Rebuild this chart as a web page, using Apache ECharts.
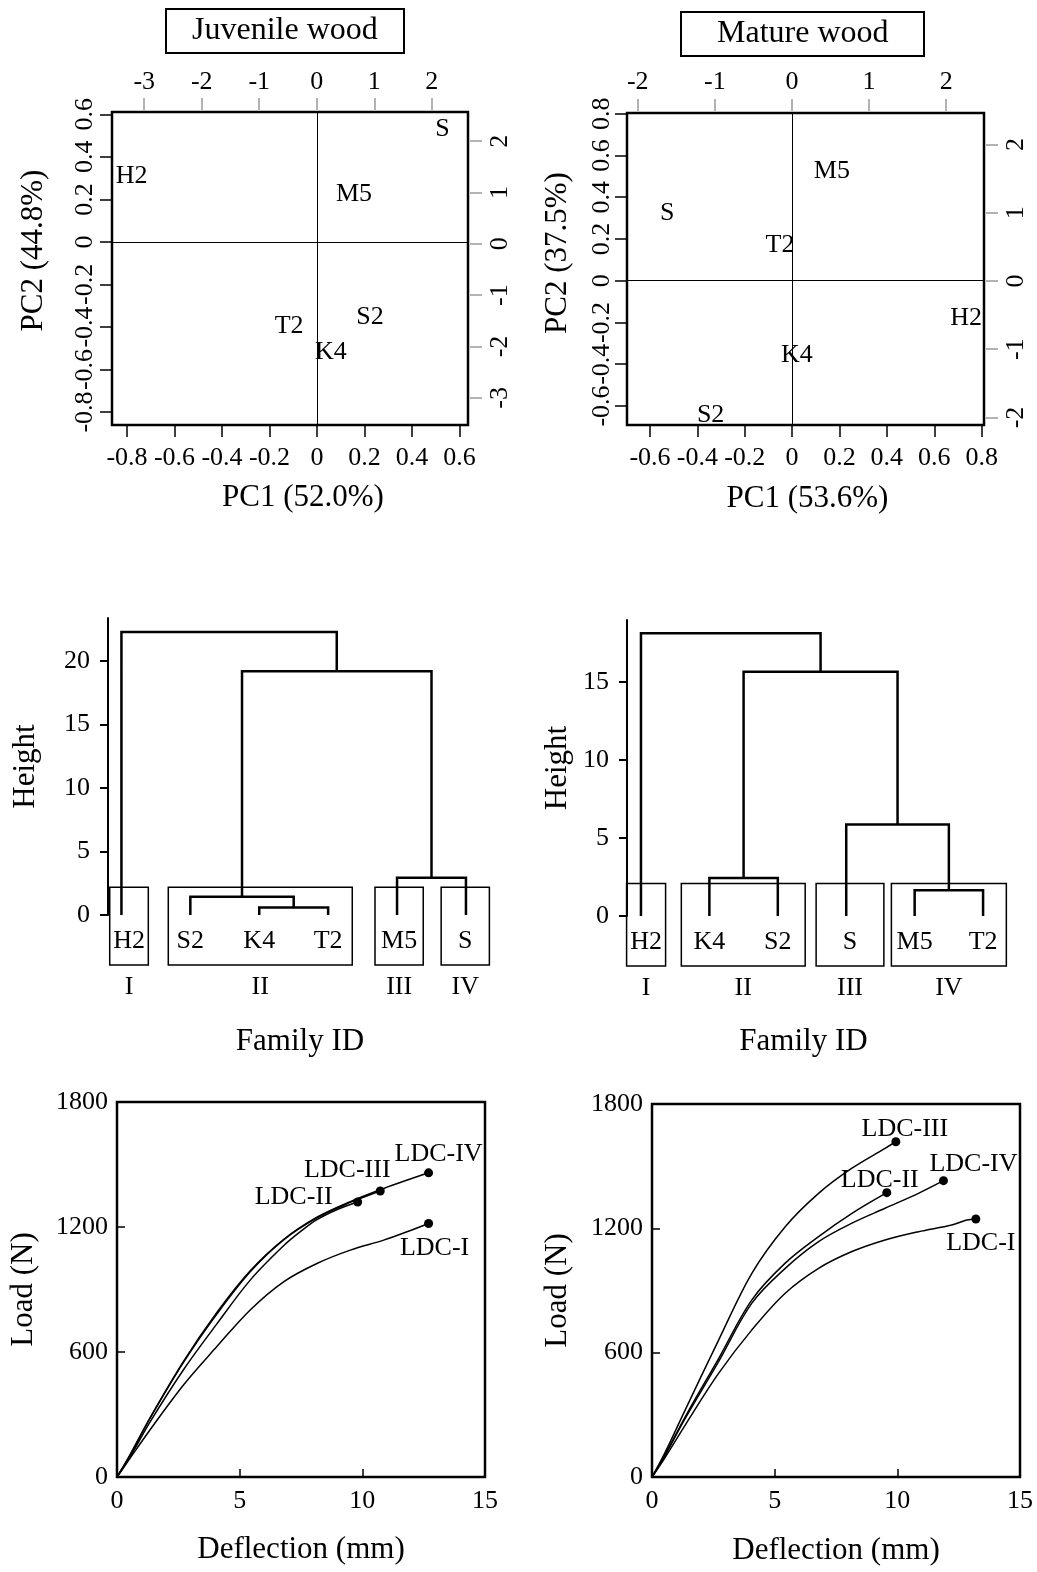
<!DOCTYPE html>
<html><head><meta charset="utf-8">
<script src="https://cdn.jsdelivr.net/npm/echarts@6/dist/echarts.min.js"></script>
<style>html,body{margin:0;padding:0;background:#fff}#c{width:1037px;height:1572px}</style>
</head><body><div id="c"></div>
<script>
// ---------------- DATA ----------------
// PCA score plots
const juvFamilies = ['S', 'H2', 'M5', 'S2', 'T2', 'K4'];
const juvPC1 = [0.529, -0.78, 0.156, 0.223, -0.117, 0.059];
const juvPC2 = [0.532, 0.308, 0.225, -0.354, -0.396, -0.518];
const matFamilies = ['M5', 'S', 'T2', 'H2', 'K4', 'S2'];
const matPC1 = [0.168, -0.527, -0.051, 0.735, 0.02, -0.344];
const matPC2 = [0.523, 0.324, 0.172, -0.178, -0.359, -0.646];

const juvPC1Ticks = [-0.8, -0.6, -0.4, -0.2, 0, 0.2, 0.4, 0.6];
const juvPC2Ticks = [-0.8, -0.6, -0.4, -0.2, 0, 0.2, 0.4, 0.6];
const juvTopTicks = [-3, -2, -1, 0, 1, 2];
const juvRightTicks = [-3, -2, -1, 0, 1, 2];
const matPC1Ticks = [-0.6, -0.4, -0.2, 0, 0.2, 0.4, 0.6, 0.8];
const matPC2Ticks = [-0.6, -0.4, -0.2, 0, 0.2, 0.4, 0.6, 0.8];
const matTopTicks = [-2, -1, 0, 1, 2];
const matRightTicks = [-2, -1, 0, 1, 2];

// Dendrograms (hclust-style merge matrix: negative = leaf index in plotting order)
const juvLeaves = ['H2', 'S2', 'K4', 'T2', 'M5', 'S'];
const juvMerge = [[-3, -4], [-2, 1], [-5, -6], [2, 3], [-1, 4]];
const juvHeights = [0.6, 1.44, 2.94, 19.2, 22.3];
const juvGroups = ['I', 'II', 'III', 'IV'];
const juvGroupLeaves = [[1, 1], [2, 4], [5, 5], [6, 6]];
const juvHeightTicks = [0, 5, 10, 15, 20];

const matLeaves = ['H2', 'K4', 'S2', 'S', 'M5', 'T2'];
const matMerge = [[-2, -3], [-5, -6], [-4, 2], [1, 3], [-1, 4]];
const matHeights = [2.44, 1.65, 5.86, 15.64, 18.1];
const matGroups = ['I', 'II', 'III', 'IV'];
const matGroupLeaves = [[1, 1], [2, 3], [4, 4], [5, 6]];
const matHeightTicks = [0, 5, 10, 15];

// Load-deflection curves
const ldcNames = ['LDC-I', 'LDC-II', 'LDC-III', 'LDC-IV'];
const juvDefl = {
  'LDC-I':   [0, 0.5, 1.35, 2.71, 4.07, 5.43, 6.79, 8.15, 9.51, 10.87, 11.82, 12.7],
  'LDC-II':  [0, 0.5, 1.35, 2.71, 4.07, 5.43, 6.79, 7.5, 8.15, 9.0, 9.81],
  'LDC-III': [0, 0.5, 1.35, 2.71, 4.07, 5.43, 6.79, 8.15, 9.51, 10.73],
  'LDC-IV':  [0, 0.5, 1.35, 2.71, 4.07, 5.43, 6.79, 8.15, 9.51, 10.87, 12.7]
};
const juvLoad = {
  'LDC-I':   [0, 85, 227, 442, 626, 802, 937, 1025, 1089, 1137, 1177, 1217],
  'LDC-II':  [0, 90, 265, 515, 735, 945, 1110, 1180, 1235, 1285, 1320],
  'LDC-III': [0, 98, 282, 550, 782, 985, 1138, 1244, 1318, 1373],
  'LDC-IV':  [0, 100, 285, 555, 790, 990, 1140, 1247, 1322, 1385, 1460]
};
const matDefl = {
  'LDC-I':   [0, 0.5, 1.36, 2.72, 4.07, 5.43, 6.79, 8.15, 9.5, 10.86, 12.22, 12.83, 13.2],
  'LDC-II':  [0, 0.5, 1.36, 2.72, 4.07, 5.43, 6.79, 8.15, 9.57],
  'LDC-III': [0, 0.5, 1.36, 2.72, 4.07, 5.43, 6.79, 8.15, 9.5, 9.94],
  'LDC-IV':  [0, 0.5, 1.36, 2.72, 4.07, 5.43, 6.79, 8.15, 9.5, 10.86, 11.88]
};
const matLoad = {
  'LDC-I':   [0, 88, 252, 501, 710, 887, 1007, 1088, 1144, 1184, 1216, 1240, 1245],
  'LDC-II':  [0, 100, 292, 573, 855, 1032, 1160, 1272, 1372],
  'LDC-III': [0, 110, 325, 662, 983, 1208, 1369, 1490, 1586, 1618],
  'LDC-IV':  [0, 97, 284, 558, 839, 1007, 1136, 1225, 1297, 1369, 1430]
};
const deflTicks = [0, 5, 10, 15];
const loadTicks = [0, 600, 1200, 1800];

// ---------------- STYLE ----------------
const FF = '"Liberation Serif", "Times New Roman", serif';
const FS = 26, NFS = 31;
const BLACK = '#000', GREY = '#9a9a9a';
const juvBoxPad = [[0.17, 0.39], [0.32, 0.35], [0.32, 0.38], [0.36, 0.34]];
const matBoxPad = [[0.21, 0.36], [0.41, 0.40], [0.44, 0.55], [0.34, 0.34]];
const juvBoxTop = 2.18, matBoxTop = 2.08;
const boxBottomPx = 50, leafLabelPx = 26, groupLabelPx = 72;
const juvLabelOffset = {'LDC-I': [6, 25], 'LDC-II': [-64, -5], 'LDC-III': [-33, -21], 'LDC-IV': [10, -19]};
const matLabelOffset = {'LDC-I': [5, 24], 'LDC-II': [-7, -13], 'LDC-III': [9, -13], 'LDC-IV': [30, -17]};

const lbl = (extra) => Object.assign({fontFamily: FF, fontSize: FS, color: BLACK, opacity: 1, textBorderWidth: 0}, extra || {});
const nameStyle = (extra) => Object.assign({fontFamily: FF, fontSize: NFS, color: BLACK}, extra || {});
const plain = v => String(v);

// ---------------- HELPERS ----------------
function pcaAxes(grid, ext, ticks, names, margins, namePad) {
  const hidden = {show: false, onZero: false};
  const x = [
    {gridIndex: grid, type: 'value', position: 'bottom', min: ext.x[0], max: ext.x[1],
     axisLine: hidden, splitLine: {show: false},
     axisTick: {show: true, length: 12, customValues: ticks.x, lineStyle: {color: BLACK, width: 1.5}},
     axisLabel: lbl({customValues: ticks.x, margin: margins.b, formatter: plain}),
     name: names.x, nameLocation: 'middle', nameGap: margins.xName,
     nameTextStyle: nameStyle({padding: [0, 0, 0, namePad.x]})},
    {gridIndex: grid, type: 'value', position: 'top', offset: 2, min: ext.t[0], max: ext.t[1],
     axisLine: hidden, splitLine: {show: false},
     axisTick: {show: true, length: 12, customValues: ticks.t, lineStyle: {color: GREY, width: 1.5}},
     axisLabel: lbl({customValues: ticks.t, margin: margins.t, formatter: plain})}
  ];
  const y = [
    {gridIndex: grid, type: 'value', position: 'left', min: ext.y[0], max: ext.y[1],
     axisLine: hidden, splitLine: {show: false},
     axisTick: {show: true, length: 12, customValues: ticks.y, lineStyle: {color: BLACK, width: 1.5}},
     axisLabel: lbl({customValues: ticks.y, margin: margins.l, rotate: 90, formatter: plain}),
     name: names.y, nameLocation: 'middle', nameRotate: 90, nameGap: margins.yName,
     nameTextStyle: nameStyle({padding: [0, 0, 0, namePad.y]})},
    {gridIndex: grid, type: 'value', position: 'right', offset: 2, min: ext.r[0], max: ext.r[1],
     axisLine: hidden, splitLine: {show: false},
     axisTick: {show: true, length: 12, customValues: ticks.r, lineStyle: {color: GREY, width: 1.5}},
     axisLabel: lbl({customValues: ticks.r, margin: margins.r, rotate: 90, formatter: plain})}
  ];
  return {x, y};
}

function pcaSeries(xi, yi, names, pc1, pc2) {
  return {
    type: 'scatter', xAxisIndex: xi, yAxisIndex: yi, symbolSize: 1,
    itemStyle: {color: 'rgba(0,0,0,0)', opacity: 1}, silent: true,
    data: names.map((n, i) => ({name: n, value: [pc1[i], pc2[i]]})),
    label: lbl({show: true, position: 'inside', formatter: '{b}'}),
    markLine: {silent: true, symbol: 'none', animation: false, label: {show: false},
      lineStyle: {color: BLACK, width: 1, type: 'solid', opacity: 1},
      data: [{xAxis: 0}, {yAxis: 0}]}
  };
}

function dendroLinks(merge, heights) {
  const pos = [], hgt = [], items = [];
  merge.forEach((m, i) => {
    const get = k => k < 0 ? [-k, 0] : [pos[k - 1], hgt[k - 1]];
    const a = get(m[0]), b = get(m[1]);
    pos.push((a[0] + b[0]) / 2); hgt.push(heights[i]);
    items.push([a[0], a[1], b[0], b[1], heights[i]]);
  });
  return items;
}

function dendroSeries(xi, yi, leaves, merge, heights, groups, groupLeaves, pads, boxTop) {
  const links = {
    type: 'custom', xAxisIndex: xi, yAxisIndex: yi, clip: false, silent: true,
    data: dendroLinks(merge, heights),
    renderItem: (params, api) => {
      const p1 = api.coord([api.value(0), api.value(1)]);
      const p2 = api.coord([api.value(0), api.value(4)]);
      const p3 = api.coord([api.value(2), api.value(4)]);
      const p4 = api.coord([api.value(2), api.value(3)]);
      return {type: 'polyline', shape: {points: [p1, p2, p3, p4]},
        style: {stroke: BLACK, lineWidth: 2.5, fill: null}};
    }
  };
  const boxes = {
    type: 'custom', xAxisIndex: xi, yAxisIndex: yi, clip: false, silent: true,
    data: groupLeaves.map((g, i) => [g[0], g[1], i]),
    renderItem: (params, api) => {
      const first = api.value(0), last = api.value(1), gi = api.value(2);
      const pad = pads[gi];
      const tl = api.coord([first - pad[0], boxTop]);
      const br = api.coord([last + pad[1], 0]);
      const zeroY = br[1];
      const bottom = zeroY + boxBottomPx;
      const cx = (tl[0] + br[0]) / 2;
      const children = [
        {type: 'rect', shape: {x: tl[0], y: tl[1], width: br[0] - tl[0], height: bottom - tl[1]},
         style: {stroke: BLACK, lineWidth: 1.5, fill: null}},
        {type: 'text', style: {x: cx, y: zeroY + groupLabelPx, text: groups[gi],
          font: FS + 'px ' + FF, fill: BLACK, align: 'center', verticalAlign: 'middle'}}
      ];
      for (let k = first; k <= last; k++) {
        const lx = first === last ? cx : api.coord([k, 0])[0];
        children.push({type: 'text', style: {x: lx, y: zeroY + leafLabelPx, text: leaves[k - 1],
          font: FS + 'px ' + FF, fill: BLACK, align: 'center', verticalAlign: 'middle'}});
      }
      return {type: 'group', children};
    }
  };
  return [links, boxes];
}

function ldcSeries(xi, yi, defl, load, offsets) {
  const out = [];
  ldcNames.forEach(n => {
    out.push({type: 'line', name: n, xAxisIndex: xi, yAxisIndex: yi, smooth: 0.35,
      showSymbol: false, silent: true, animation: false,
      lineStyle: {color: BLACK, width: 1.5, opacity: 1},
      data: defl[n].map((d, i) => [d, load[n][i]])});
  });
  out.push({type: 'scatter', xAxisIndex: xi, yAxisIndex: yi, symbolSize: 9, silent: true,
    itemStyle: {color: BLACK, opacity: 1}, z: 5,
    data: ldcNames.map(n => {
      const k = defl[n].length - 1;
      return {name: n, value: [defl[n][k], load[n][k]],
        label: {offset: offsets[n]}};
    }),
    label: lbl({show: true, position: 'inside', formatter: '{b}'})
  });
  return out;
}

function loadAxes(grid, yName, xName, xNameGap, yNameGap) {
  return {
    x: {gridIndex: grid, type: 'value', min: 0, max: 15, interval: 5,
      axisLine: {show: false, onZero: false}, splitLine: {show: false},
      axisTick: {show: true, inside: true, length: 8, lineStyle: {color: BLACK, width: 1.5}},
      axisLabel: lbl({margin: 11, customValues: deflTicks, formatter: plain}),
      name: xName, nameLocation: 'middle', nameGap: xNameGap, nameTextStyle: nameStyle()},
    y: {gridIndex: grid, type: 'value', min: 0, max: 1800, interval: 600,
      axisLine: {show: false, onZero: false}, splitLine: {show: false},
      axisTick: {show: true, inside: true, length: 8, lineStyle: {color: BLACK, width: 1.5}},
      axisLabel: lbl({margin: 9, customValues: loadTicks, formatter: plain}),
      name: yName, nameLocation: 'middle', nameRotate: 90, nameGap: yNameGap, nameTextStyle: nameStyle()}
  };
}

function dendroAxes(grid, xmin, xmax, ymax, ticks, xNameGap, yNameGap) {
  return {
    x: {gridIndex: grid, type: 'value', min: xmin, max: xmax,
      axisLine: {show: false, onZero: false}, axisTick: {show: false}, axisLabel: {show: false}, splitLine: {show: false},
      name: 'Family ID', nameLocation: 'middle', nameGap: xNameGap, nameTextStyle: nameStyle()},
    y: {gridIndex: grid, type: 'value', min: 0, max: ymax,
      axisLine: {show: true, onZero: false, lineStyle: {color: BLACK, width: 2}}, splitLine: {show: false},
      axisTick: {show: true, length: 8, customValues: ticks, lineStyle: {color: BLACK, width: 2}},
      axisLabel: lbl({customValues: ticks, margin: 18, formatter: plain}),
      name: 'Height', nameLocation: 'middle', nameRotate: 90, nameGap: yNameGap, nameTextStyle: nameStyle()}
  };
}

// ---------------- OPTION ----------------
const boxGrid = {show: true, borderColor: BLACK, borderWidth: 2.5, backgroundColor: 'transparent', containLabel: false};

const pJ = pcaAxes(0,
  {x: [-0.863, 0.636], t: [-3.56, 2.63], y: [-0.861, 0.611], r: [-3.53, 2.57]},
  {x: juvPC1Ticks, t: juvTopTicks, y: juvPC2Ticks, r: juvRightTicks},
  {x: 'PC1 (52.0%)', y: 'PC2 (44.8%)'},
  {b: 20, t: 15, l: 14, r: 17, xName: 57, yName: 63}, {x: 26, y: 36});
const pM = pcaAxes(1,
  {x: [-0.697, 0.81], t: [-2.14, 2.49], y: [-0.691, 0.803], r: [-2.11, 2.46]},
  {x: matPC1Ticks, t: matTopTicks, y: matPC2Ticks, r: matRightTicks},
  {x: 'PC1 (53.6%)', y: 'PC2 (37.5%)'},
  {b: 20, t: 16, l: 12, r: 17, xName: 58, yName: 54}, {x: 4, y: 32});
const dJ = dendroAxes(2, 0.805, 6.378, 23.4, juvHeightTicks, 111, 67);
const dM = dendroAxes(3, 0.796, 5.955, 18.95, matHeightTicks, 110, 54);
const lJ = loadAxes(4, 'Load (N)', 'Deflection (mm)', 57, 78);
const lM = loadAxes(5, 'Load (N)', 'Deflection (mm)', 58, 79);

const option = {
  backgroundColor: '#fff',
  animation: false,
  textStyle: {fontFamily: FF},
  title: [
    {text: 'Juvenile wood', left: 166, top: 9, padding: [5, 26, 5, 26], borderColor: BLACK, borderWidth: 2,
     textStyle: {fontFamily: FF, fontSize: 32, fontWeight: 'normal', color: BLACK, lineHeight: 34}},
    {text: 'Mature wood', left: 681, top: 12, padding: [5, 36, 5, 36], borderColor: BLACK, borderWidth: 2,
     textStyle: {fontFamily: FF, fontSize: 32, fontWeight: 'normal', color: BLACK, lineHeight: 34}}
  ],
  grid: [
    Object.assign({left: 112, top: 112, width: 356, height: 313}, boxGrid),
    Object.assign({left: 627, top: 113, width: 357, height: 312}, boxGrid),
    {left: 108, top: 618, width: 384, height: 297, show: false},
    {left: 627, top: 620, width: 353, height: 296, show: false},
    Object.assign({left: 117, top: 1102, width: 368, height: 375}, boxGrid),
    Object.assign({left: 652, top: 1104, width: 368, height: 373}, boxGrid)
  ],
  xAxis: [pJ.x[0], pJ.x[1], pM.x[0], pM.x[1], dJ.x, dM.x, lJ.x, lM.x],
  yAxis: [pJ.y[0], pJ.y[1], pM.y[0], pM.y[1], dJ.y, dM.y, lJ.y, lM.y],
  series: [
    pcaSeries(0, 0, juvFamilies, juvPC1, juvPC2),
    pcaSeries(2, 2, matFamilies, matPC1, matPC2),
    ...dendroSeries(4, 4, juvLeaves, juvMerge, juvHeights, juvGroups, juvGroupLeaves, juvBoxPad, juvBoxTop),
    ...dendroSeries(5, 5, matLeaves, matMerge, matHeights, matGroups, matGroupLeaves, matBoxPad, matBoxTop),
    ...ldcSeries(6, 6, juvDefl, juvLoad, juvLabelOffset),
    ...ldcSeries(7, 7, matDefl, matLoad, matLabelOffset)
  ]
};

const chart = echarts.init(document.getElementById('c'), null, {renderer: 'canvas'});
chart.setOption(option);
</script></body></html>
